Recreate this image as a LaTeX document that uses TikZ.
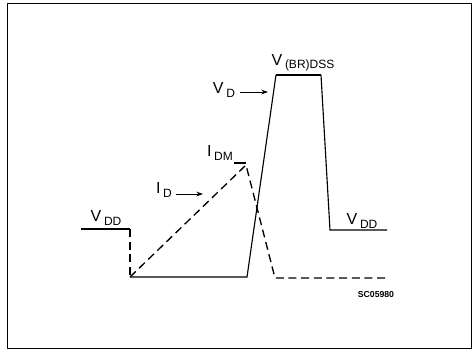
\documentclass[tikz,border=0pt]{standalone}
\usepackage{fontspec}
\setmainfont{Liberation Sans}
\usetikzlibrary{arrows.meta}
\newcommand\mysub[2]{#1\,\raisebox{-0.4ex}{\fontsize{9}{10}\selectfont #2}}
\begin{document}
\begin{tikzpicture}[x=0.75pt,y=-0.75pt,
  wave/.style={line width=0.85pt},
  topwave/.style={line width=1.5pt},
  dwave/.style={line width=1pt, dash pattern=on 6pt off 3.5pt},
  lbl/.style={font=\fontsize{12}{13}\selectfont, inner sep=0pt},
  small/.style={font=\fontsize{6.5}{7}\selectfont\bfseries, inner sep=0pt},
  ptr/.style={-{Stealth[length=5pt,width=3.5pt]}, line width=0.7pt}]
\useasboundingbox (0,0) rectangle (476,351);
\draw[line width=0.6pt] (7,3) rectangle (471,348);
% voltage waveform
\coordinate (a0) at (81,229);
\coordinate (a1) at (130,229);
\coordinate (a2) at (130,277);
\coordinate (a3) at (247,277);
\coordinate (a4) at (276,75);
\coordinate (a5) at (321,75);
\coordinate (a6) at (330,230);
\coordinate (a7) at (387,230);
\draw[wave] (a0) -- (a1);
\draw[dwave] (a1) -- (a2);
\draw[wave] (a2) -- (a3) -- (a4);
\draw[topwave] (a4) -- (a5);
\draw[wave] (a5) -- (a6) -- (a7);
% current waveform
\coordinate (b1) at (246,165);
\coordinate (b2) at (275,278);
\coordinate (b3) at (387,278);
\draw[dwave] (a2) -- (b1) -- (b2) -- (b3);
% IDM level tick
\coordinate (t0) at (234,163);
\draw[wave] (t0) -- (b1 |- t0);
% labels
\node[lbl] (vddl) at (106,218) {\mysub{V}{DD}};
\node[lbl] (vddr) at (362,221) {\mysub{V}{DD}};
\node[lbl] (idm) at (220,153) {\mysub{I}{DM}};
\node[lbl] (id) at (164,190) {\mysub{I}{D}};
\node[lbl] (vd) at (224,90) {\mysub{V}{D}};
\node[lbl] (vbr) at (303,63) {\mysub{V}{(BR)DSS}};
\node[small] (code) at (376,295) {SC05980};
% pointers
\coordinate (idtip) at (203,194);
\coordinate (vdtip) at (268,92);
\path (id.east |- idtip) ++(4,0) coordinate (idstart);
\draw[ptr] (idstart) -- (idtip);
\path (vd.east |- vdtip) ++(5,0) coordinate (vdstart);
\draw[ptr] (vdstart) -- (vdtip);
\end{tikzpicture}
\end{document}
